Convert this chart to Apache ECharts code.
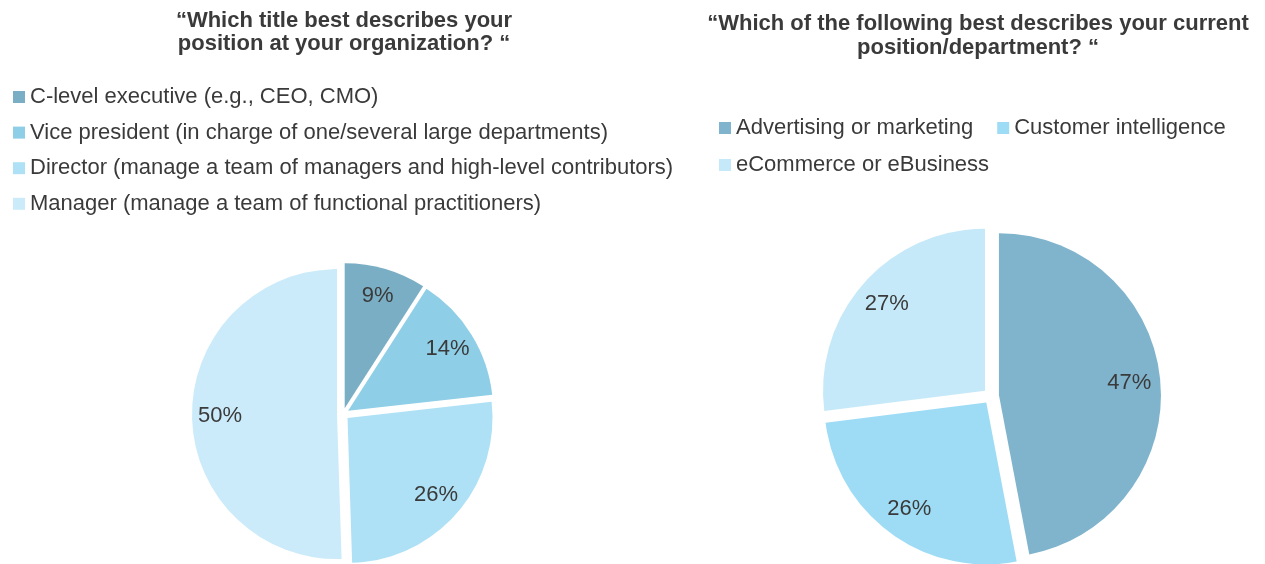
<!DOCTYPE html>
<html>
<head>
<meta charset="utf-8">
<script src="https://cdn.jsdelivr.net/npm/echarts@6/dist/echarts.min.js"></script>
<style>
  html, body { margin: 0; padding: 0; background: #ffffff; }
  #chart { width: 1265px; height: 564px; }
</style>
</head>
<body>
<div id="chart"></div>
<script>
// Survey: job title of respondents
const titleCategories = [
  'C-level executive (e.g., CEO, CMO)',
  'Vice president (in charge of one/several large departments)',
  'Director (manage a team of managers and high-level contributors)',
  'Manager (manage a team of functional practitioners)'
];
const titleValues = [9, 14, 26, 50];
const titleColors = ['#7aaec4', '#8ecee6', '#aee1f6', '#ccebfa'];

// Survey: department of respondents
const deptCategories = [
  'Advertising or marketing',
  'Customer intelligence',
  'eCommerce or eBusiness'
];
const deptValues = [47, 26, 27];
const deptColors = ['#80b4cd', '#9edcf5', '#c6e9f9'];

const FONT = 'Liberation Sans, Arial, sans-serif';
const TEXT = '#3a3a3a';

function sliceData(names, values, colors, selected) {
  return names.map((n, i) => ({
    name: n,
    value: values[i],
    selected: selected,
    itemStyle: { color: colors[i] }
  }));
}

// Exploded pie: every slice selected and pushed out along its bisector
function slicePie(names, values, colors, center, radius, offset) {
  return {
    type: 'pie',
    center: center,
    radius: radius,
    startAngle: 90,
    clockwise: true,
    selectedMode: 'multiple',
    selectedOffset: offset,
    avoidLabelOverlap: false,
    label: { show: false },
    labelLine: { show: false },
    emphasis: { disabled: true },
    select: { itemStyle: { borderWidth: 0 } },
    animation: false,
    data: sliceData(names, values, colors, true)
  };
}

// Transparent ring carrying the percentage labels at the slice mid-radius
function labelRing(names, values, center, r0, r1) {
  return {
    type: 'pie',
    center: center,
    radius: [r0, r1],
    startAngle: 90,
    clockwise: true,
    silent: true,
    avoidLabelOverlap: false,
    itemStyle: { color: 'rgba(0,0,0,0)' },
    label: {
      show: true,
      position: 'inside',
      formatter: '{c}%',
      color: TEXT,
      fontSize: 22,
      fontFamily: FONT
    },
    labelLine: { show: false },
    emphasis: { disabled: true },
    animation: false,
    data: names.map((n, i) => ({ name: n, value: values[i] }))
  };
}

const chart = echarts.init(document.getElementById('chart'), null, { renderer: 'canvas' });

const legendText = { color: TEXT, fontSize: 22, fontFamily: FONT, lineHeight: 24 };
const legendBase = {
  icon: 'rect',
  itemWidth: 12,
  itemHeight: 12,
  padding: 0,
  selectedMode: false,
  textStyle: legendText
};

chart.setOption({
  backgroundColor: '#ffffff',
  animation: false,
  title: [
    {
      text: '“Which title best describes your\nposition at your organization? “',
      left: 339,
      top: 4,
      textAlign: 'center',
      textStyle: { color: TEXT, fontSize: 22, fontWeight: 'bold', fontFamily: FONT, lineHeight: 23 }
    },
    {
      text: '“Which of the following best describes your current\nposition/department? “',
      left: 973,
      top: 7,
      textAlign: 'center',
      textStyle: { color: TEXT, fontSize: 22, fontWeight: 'bold', fontFamily: FONT, lineHeight: 24 }
    }
  ],
  legend: [
    Object.assign({}, legendBase, {
      data: titleCategories,
      orient: 'vertical',
      left: 13,
      top: 85,
      itemGap: 11.6
    }),
    Object.assign({}, legendBase, {
      data: deptCategories.slice(0, 2),
      orient: 'horizontal',
      left: 719,
      top: 116,
      itemGap: 24
    }),
    Object.assign({}, legendBase, {
      data: deptCategories.slice(2),
      orient: 'horizontal',
      left: 719,
      top: 153
    })
  ],
  series: [
    slicePie(titleCategories, titleValues, titleColors, [343, 414], 145, 6),
    slicePie(deptCategories, deptValues, deptColors, [991, 396], 162, 8),
    labelRing(titleCategories, titleValues, [343, 414], 95, 145),
    labelRing(deptCategories, deptValues, [991, 396], 110, 162)
  ]
});
</script>
</body>
</html>
